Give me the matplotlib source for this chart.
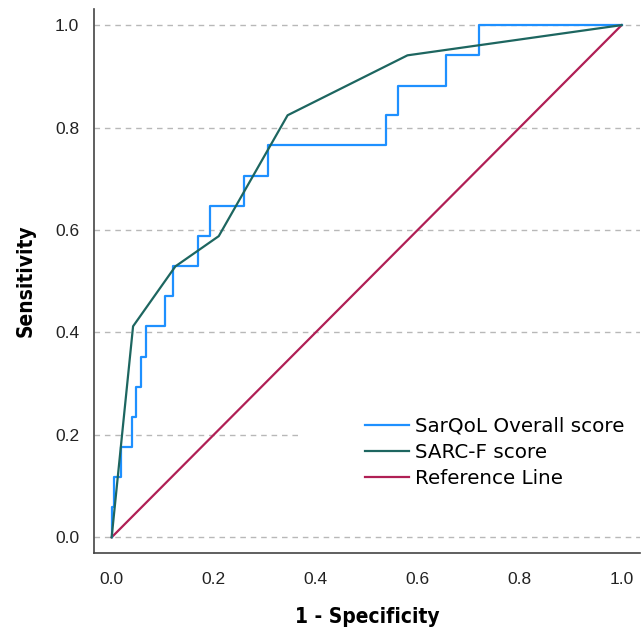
import matplotlib
matplotlib.use("Agg")
import matplotlib.pyplot as plt
from matplotlib.patches import Rectangle
import numpy as np

# ROC data
sarqol_fpr = [0.0, 0.005, 0.019, 0.039, 0.047, 0.057, 0.068, 0.105, 0.121,
              0.169, 0.193, 0.259, 0.307, 0.537, 0.561, 0.655, 0.720, 1.0]
sarqol_tpr = [0.0, 0.059, 0.118, 0.176, 0.235, 0.294, 0.353, 0.412, 0.471,
              0.529, 0.588, 0.647, 0.706, 0.765, 0.824, 0.882, 0.941, 1.0]

sarcf_fpr = [0.0, 0.042, 0.125, 0.210, 0.345, 0.580, 1.0]
sarcf_tpr = [0.0, 0.412, 0.529, 0.588, 0.824, 0.941, 1.0]

ref_x = [0.0, 1.0]
ref_y = [0.0, 1.0]

labels = ["SarQoL Overall score", "SARC-F score", "Reference Line"]
ticks = [0.0, 0.2, 0.4, 0.6, 0.8, 1.0]

plt.rcParams['font.family'] = ['Liberation Sans', 'DejaVu Sans']

fig = plt.figure(figsize=(6.42, 6.33), dpi=100)
ax = fig.add_axes([0.1469, 0.1269, 0.850, 0.8585])

for t in ticks:
    ax.axhline(t, color='#b8b8b8', lw=1.0, ls=(0, (4, 3.5)), zorder=1)

# white block behind the legend hides part of the grid, like the original
ax.add_patch(Rectangle((0.369, 0.07), 0.70, 0.20, facecolor='white',
                       edgecolor='none', zorder=1.5))

ax.plot(sarqol_fpr, sarqol_tpr, drawstyle='steps-pre', color='#1e90ff',
        lw=1.6, label=labels[0], zorder=3)
ax.plot(sarcf_fpr, sarcf_tpr, color='#1d6660', lw=1.6, label=labels[1], zorder=4)
ax.plot(ref_x, ref_y, color='#b01f55', lw=1.6, label=labels[2], zorder=2)

ax.set_xlim(-0.034, 1.036)
ax.set_ylim(-0.030, 1.031)
ax.set_xticks(ticks)
ax.set_yticks(ticks)
ax.set_xticklabels(["%.1f" % t for t in ticks])
ax.set_yticklabels(["%.1f" % t for t in ticks])
ax.tick_params(length=0, labelsize=12.5, colors='#222222', pad=11)
ax.tick_params(axis='x', pad=14)

for s in ['top', 'right']:
    ax.spines[s].set_visible(False)
for s in ['left', 'bottom']:
    ax.spines[s].set_color('#444444')
    ax.spines[s].set_linewidth(1.2)

ax.set_xlabel("1 - Specificity", fontsize=15, fontweight='bold',
              family=['DejaVu Sans'], fontstretch='condensed', labelpad=14)
ax.set_ylabel("Sensitivity", fontsize=15, fontweight='bold',
              family=['DejaVu Sans'], fontstretch='condensed', labelpad=14)

leg = ax.legend(loc='center left', bbox_to_anchor=(0.496, 0.185), frameon=False,
                prop={'family': 'DejaVu Sans', 'size': 14.3},
                handlelength=2.2, handletextpad=0.3,
                labelspacing=0.36, borderpad=0.0, borderaxespad=0.0)
leg.set_zorder(5)

fig.savefig("out.png", dpi=100)
